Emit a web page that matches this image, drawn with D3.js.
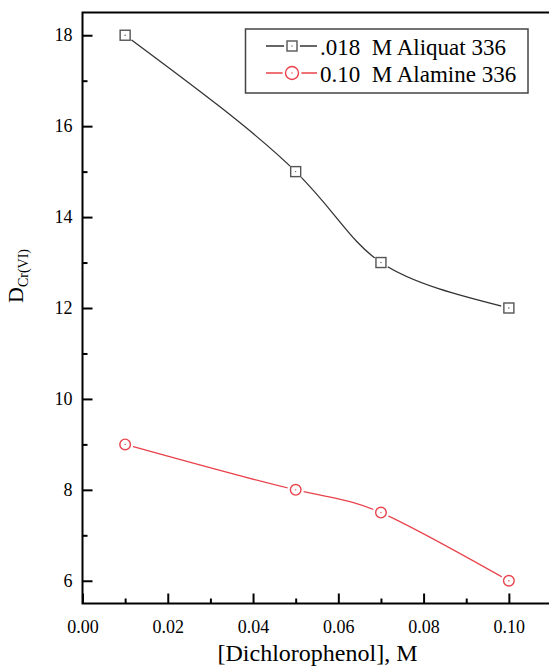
<!DOCTYPE html>
<html>
<head>
<meta charset="utf-8">
<script src="https://cdn.jsdelivr.net/npm/d3@7/dist/d3.min.js"></script>
<style>
  html, body { margin: 0; padding: 0; background: #fff; }
  svg { display: block; }
  svg text { font-family: "Liberation Serif", "Times New Roman", Tinos, "DejaVu Serif", serif !important; }
</style>
</head>
<body>
<svg id="chart" width="549" height="668"></svg>
<script>
// Dichlorophenol concentration (M)
const dcpConc = [0.01, 0.05, 0.07, 0.10];
// Distribution ratio of Cr(VI) for each extractant
const aliquatD = [18, 15, 13, 12];
const alamineD = [9, 8, 7.5, 6];

const seriesNames = [".018  M Aliquat 336", "0.10  M Alamine 336"];
const xTickValues = [0.00, 0.02, 0.04, 0.06, 0.08, 0.10];
const xMinorValues = [0.01, 0.03, 0.05, 0.07, 0.09];
const yTickValues = [6, 8, 10, 12, 14, 16, 18];
const yMinorValues = [7, 9, 11, 13, 15, 17];

const svg = d3.select("#chart");
const plotL = 82.5, plotR = 551.5, plotT = 12.5, plotB = 603.5;

const x = d3.scaleLinear().domain([0, 0.11]).range([plotL, plotR]);
const y = d3.scaleLinear().domain([5.5, 18.5]).range([plotB, plotT]);

const series = [
  { name: seriesNames[0], values: aliquatD, color: "#333333", markerColor: "#555555", shape: "square" },
  { name: seriesNames[1], values: alamineD, color: "#e8424b", markerColor: "#e8424b", shape: "circle" }
];

// plot frame
svg.append("rect")
  .attr("x", plotL).attr("y", plotT)
  .attr("width", plotR - plotL).attr("height", plotB - plotT)
  .attr("fill", "none").attr("stroke", "#000").attr("stroke-width", 2);

// axes: ticks point inward
function styleAxis(g) {
  g.attr("font-family", null);
  g.select(".domain").remove();
  g.selectAll(".tick line").attr("stroke", "#000").attr("stroke-width", 2);
  g.selectAll(".tick text").attr("fill", "#000").attr("font-size", 18);
}

svg.append("g").attr("transform", `translate(0,${plotB})`)
  .call(d3.axisBottom(x).tickValues(xTickValues).tickFormat(d3.format(".2f")).tickSize(-10).tickPadding(17))
  .call(styleAxis);
svg.append("g").attr("transform", `translate(0,${plotB})`)
  .call(d3.axisBottom(x).tickValues(xMinorValues).tickFormat("").tickSize(-5))
  .call(styleAxis);

svg.append("g").attr("transform", `translate(${plotL},0)`)
  .call(d3.axisLeft(y).tickValues(yTickValues).tickFormat(d3.format("d")).tickSize(-10).tickPadding(10))
  .call(styleAxis);
svg.append("g").attr("transform", `translate(${plotL},0)`)
  .call(d3.axisLeft(y).tickValues(yMinorValues).tickFormat("").tickSize(-5))
  .call(styleAxis);

// smoothed curves through the measured points
const line = d3.line().x(d => x(d[0])).y(d => y(d[1])).curve(d3.curveNatural);

series.forEach(s => {
  const pts = dcpConc.map((c, i) => [c, s.values[i]]);
  svg.append("path")
    .datum(pts)
    .attr("d", line)
    .attr("fill", "none")
    .attr("stroke", s.color)
    .attr("stroke-width", 1.3);
});

// markers with a small white gap around them
function drawMarker(g, cx, cy, s, size) {
  g.append("circle").attr("cx", cx).attr("cy", cy).attr("r", size + 3).attr("fill", "#fff");
  if (s.shape === "square") {
    g.append("rect")
      .attr("x", cx - size).attr("y", cy - size)
      .attr("width", size * 2).attr("height", size * 2)
      .attr("fill", "#fff").attr("stroke", s.markerColor).attr("stroke-width", 1.4);
  } else {
    g.append("circle").attr("cx", cx).attr("cy", cy).attr("r", size)
      .attr("fill", "#fff").attr("stroke", s.markerColor).attr("stroke-width", 1.4);
  }
  g.append("circle").attr("cx", cx).attr("cy", cy).attr("r", 0.7).attr("fill", s.markerColor);
}

series.forEach(s => {
  const g = svg.append("g");
  dcpConc.forEach((c, i) => drawMarker(g, x(c), y(s.values[i]), s, s.shape === "square" ? 5 : 5.3));
});

// legend
const lg = svg.append("g");
lg.append("rect")
  .attr("x", 245.5).attr("y", 29).attr("width", 282.5).attr("height", 64)
  .attr("fill", "#fff").attr("stroke", "#444").attr("stroke-width", 1.5);
series.forEach((s, i) => {
  const cy = 46 + i * 27;
  lg.append("line")
    .attr("x1", 266).attr("x2", 317).attr("y1", cy).attr("y2", cy)
    .attr("stroke", s.color).attr("stroke-width", 1.3);
  drawMarker(lg, 292, cy, s, s.shape === "square" ? 5 : 6.5);
  lg.append("text")
    .attr("x", 320).attr("y", cy + 9)
    .attr("font-size", 23)
    .attr("fill", "#000")
    .style("white-space", "pre")
    .text(s.name);
});

// axis titles
svg.append("text")
  .attr("x", 317.5).attr("y", 661)
  .attr("text-anchor", "middle")
  .attr("font-size", 24)
  .attr("fill", "#000")
  .text("[Dichlorophenol], M");

const yt = svg.append("text")
  .attr("transform", "translate(23,276) rotate(-90)")
  .attr("text-anchor", "middle")
  .attr("font-size", 22)
  .attr("fill", "#000");
yt.append("tspan").text("D");
yt.append("tspan").attr("font-size", 14).attr("dy", 5).text("Cr(VI)");
</script>
</body>
</html>
